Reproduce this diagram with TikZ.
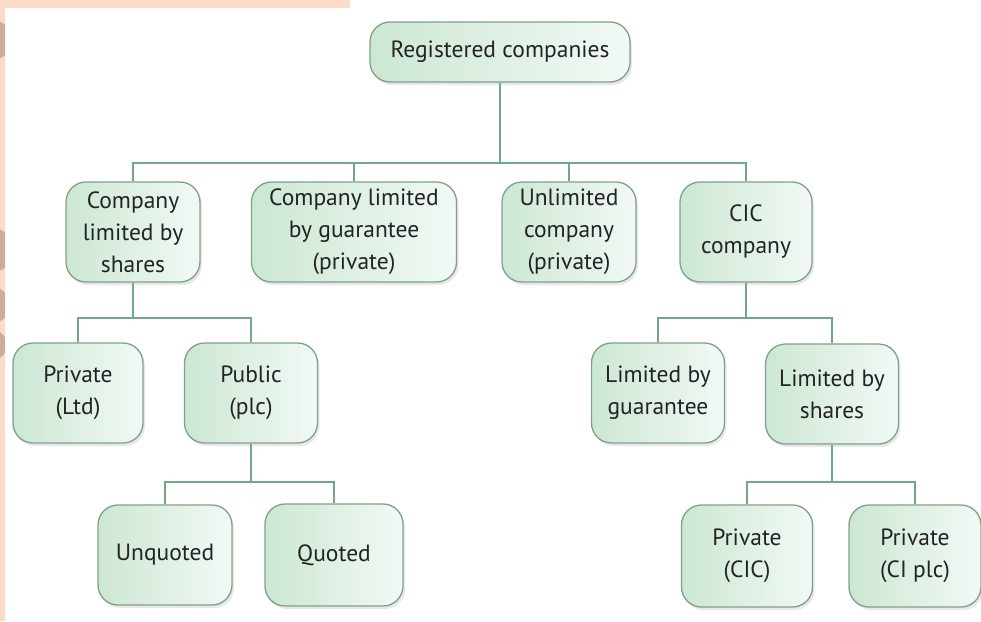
\documentclass[tikz,border=0pt]{standalone}
\usepackage{fontspec}
\setmainfont{PT Sans}
\usetikzlibrary{shadows}
\definecolor{linegreen}{RGB}{112,168,136}
\definecolor{bordergreen}{RGB}{128,160,140}
\definecolor{fillleft}{RGB}{204,231,212}
\definecolor{fillright}{RGB}{242,249,244}
\definecolor{txt}{RGB}{35,35,35}
\definecolor{peach}{RGB}{252,220,200}
\definecolor{blob}{RGB}{206,172,156}
\tikzset{
  box/.style={draw=bordergreen, line width=1.3pt, rounded corners=20pt,
    left color=fillleft, right color=fillright,
    drop shadow={shadow xshift=2pt, shadow yshift=-3pt, opacity=0.18, fill=gray},
    align=center, text=txt, inner sep=2pt,
    font=\fontsize{23.5}{32}\selectfont},
  conn/.style={draw=linegreen, line width=2.2pt}
}
\begin{document}
\begin{tikzpicture}[x=1pt,y=1pt]
\useasboundingbox (0,0) rectangle (981,-621);
\fill[white] (0,0) rectangle (981,-621);
% page edge decoration
\fill[peach] (0,0) rectangle (350,-8);
\fill[peach] (0,0) rectangle (5,-621);
\begin{scope}
\clip (0,0) rectangle (5,-621);
\fill[blob] (-8,-40) circle (20);
\fill[blob] (-8,-250) circle (22);
\fill[blob] (-8,-305) circle (18);
\fill[blob] (-8,-345) circle (15);
\end{scope}
% bus coordinates
\coordinate (b1) at (0,-163);
\coordinate (b2) at (0,-318);
\coordinate (b3) at (0,-482);
% nodes
\node[box, minimum width=260pt, minimum height=60pt] (reg) at (500,-52) {Registered companies};
\node[box, minimum width=134pt, minimum height=100pt] (cls) at (133,-232) {Company\\limited by\\shares};
\node[box, minimum width=205pt, minimum height=100pt] (clg) at (354,-232) {Company limited\\by guarantee\\(private)};
\node[box, minimum width=134pt, minimum height=100pt] (unl) at (569,-232) {Unlimited\\company\\(private)};
\node[box, minimum width=132pt, minimum height=100pt] (cic) at (746,-232) {CIC\\company};
\node[box, minimum width=130pt, minimum height=100pt] (pltd) at (78,-393) {Private\\(Ltd)};
\node[box, minimum width=133pt, minimum height=100pt] (pub) at (251,-393) {Public\\(plc)};
\node[box, minimum width=133pt, minimum height=100pt] (lbg) at (658,-393) {Limited by\\guarantee};
\node[box, minimum width=133pt, minimum height=100pt] (lbs) at (832,-394) {Limited by\\shares};
\node[box, minimum width=134pt, minimum height=100pt] (unq) at (165,-555) {Unquoted};
\node[box, minimum width=138pt, minimum height=102pt] (quo) at (334,-555) {Quoted};
\node[box, minimum width=131pt, minimum height=102pt] (pcic) at (747,-556) {Private\\(CIC)};
\node[box, minimum width=132pt, minimum height=102pt] (pcip) at (915,-556) {Private\\(CI plc)};
% connectors
\draw[conn] (reg.south) -- (reg.south |- b1);
\draw[conn] (cls.north) -- (cls.north |- b1) -- (cic.north |- b1) -- (cic.north);
\draw[conn] (clg.north) -- (clg.north |- b1);
\draw[conn] (unl.north) -- (unl.north |- b1);
\draw[conn] (cls.south) -- (cls.south |- b2);
\draw[conn] (pltd.north) -- (pltd.north |- b2) -- (pub.north |- b2) -- (pub.north);
\draw[conn] (cic.south) -- (cic.south |- b2);
\draw[conn] (lbg.north) -- (lbg.north |- b2) -- (lbs.north |- b2) -- (lbs.north);
\draw[conn] (pub.south) -- (pub.south |- b3);
\draw[conn] (unq.north) -- (unq.north |- b3) -- (quo.north |- b3) -- (quo.north);
\draw[conn] (lbs.south) -- (lbs.south |- b3);
\draw[conn] (pcic.north) -- (pcic.north |- b3) -- (pcip.north |- b3) -- (pcip.north);
\end{tikzpicture}
\end{document}
